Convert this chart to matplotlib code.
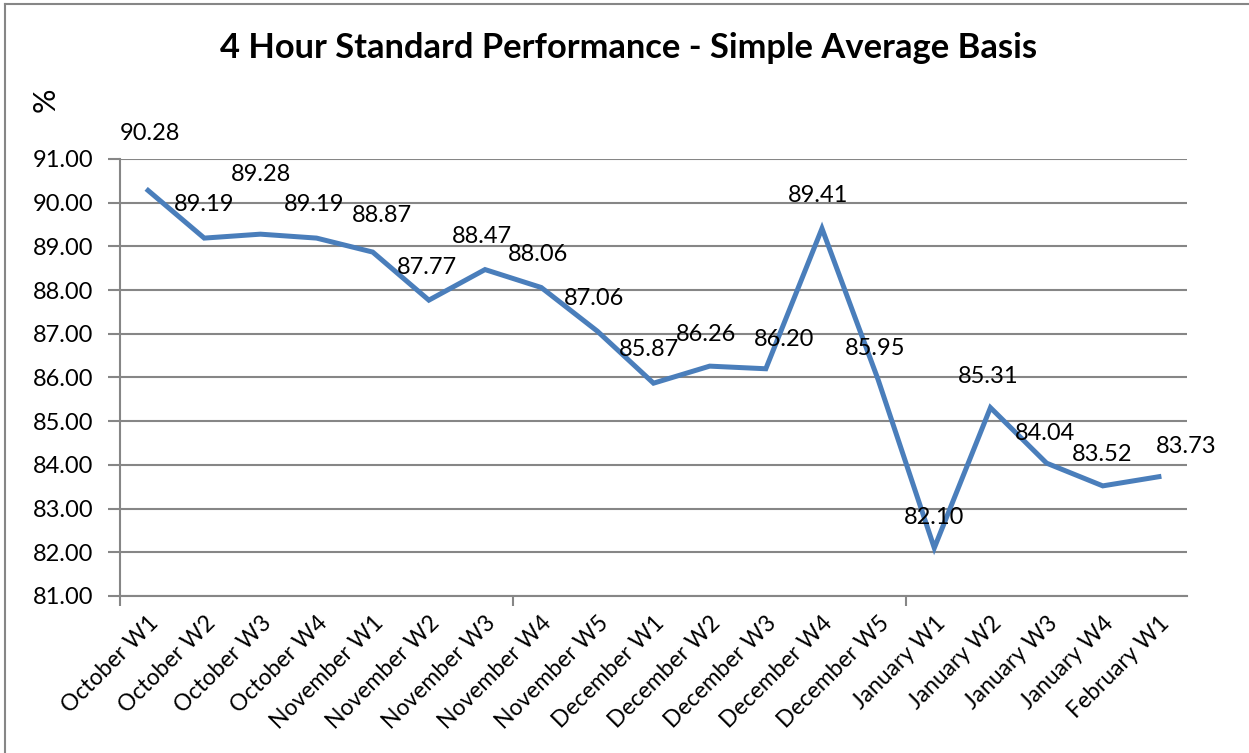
import matplotlib
matplotlib.use('Agg')
import matplotlib.pyplot as plt
from matplotlib.lines import Line2D
import numpy as np

plt.rcParams['font.family'] = ['Lato', 'DejaVu Sans']

weeks = ['October W1', 'October W2', 'October W3', 'October W4',
         'November W1', 'November W2', 'November W3', 'November W4', 'November W5',
         'December W1', 'December W2', 'December W3', 'December W4', 'December W5',
         'January W1', 'January W2', 'January W3', 'January W4', 'February W1']
perf = [90.28, 89.19, 89.28, 89.19, 88.87, 87.77, 88.47, 88.06, 87.06,
        85.87, 86.26, 86.20, 89.41, 85.95, 82.10, 85.31, 84.04, 83.52, 83.73]

# label nudges in pixels (dx, dy), mostly "above"
nudge = [(2, 57), (0, 34), (1, 60), (-2, 34), (9, 37), (-2, 33), (-3, 33), (-3, 33), (-3, 33),
         (-4, 34), (-4, 32), (18, 29), (-4, 33), (-3, 31), (0, 30), (-2, 31), (-2, 30), (-1, 31), (27, 30)]

grey = '#868686'
blue = '#4A7EBB'

fig = plt.figure(figsize=(12.49, 7.53), dpi=100)
ax = fig.add_axes([120/1249, 1 - 596/753, 1067/1249, (596 - 159)/753])

x = np.arange(len(perf))
ax.plot(x, perf, color=blue, linewidth=3.6, solid_joinstyle='miter', zorder=3)

for xi, v, (dx, dy) in zip(x, perf, nudge):
    ax.annotate(f'{v:.2f}', (xi, v), xytext=(dx, dy), textcoords='offset pixels',
                ha='center', va='center', fontsize=17, color='black', zorder=4)

ax.set_xlim(-0.5, len(perf) - 0.5)
ax.set_ylim(81, 91)
ax.set_yticks(np.arange(81, 92, 1))
ax.set_yticklabels([f'{t:.2f}' for t in range(81, 92)])
ax.yaxis.grid(True, color=grey, linewidth=1.5)
ax.set_axisbelow(True)

# tick marks every 7 categories, labels at every category
ax.set_xticks([-0.5, 6.5, 13.5])
ax.set_xticklabels([])
ax.set_xticks(x, minor=True)
ax.set_xticklabels(weeks, minor=True, rotation=45, ha='right', va='top',
                   rotation_mode='anchor')
ax.tick_params(axis='x', which='major', length=7, width=1.5, color=grey)
ax.tick_params(axis='x', which='minor', length=0, pad=12, labelsize=16.5)
ax.tick_params(axis='y', length=9, width=1.5, color=grey, labelsize=17, pad=10)

for s in ['top', 'right']:
    ax.spines[s].set_visible(False)
for s in ['left', 'bottom']:
    ax.spines[s].set_color(grey)
    ax.spines[s].set_linewidth(1.5)

fig.text(629/1249, 1 - 48/753, '4 Hour Standard Performance - Simple Average Basis',
         ha='center', va='center', fontsize=24.8, fontweight='bold')
fig.text(46/1249, 1 - 100/753, '%', rotation=90, ha='center', va='center', fontsize=22)

# chart border
fig.add_artist(Line2D([5/1249, 5/1249], [0, 1 - 4/753], color=grey, linewidth=1.5))
fig.add_artist(Line2D([5/1249, 1], [1 - 4/753, 1 - 4/753], color=grey, linewidth=1.5))

fig.savefig('out.png', dpi=100)
